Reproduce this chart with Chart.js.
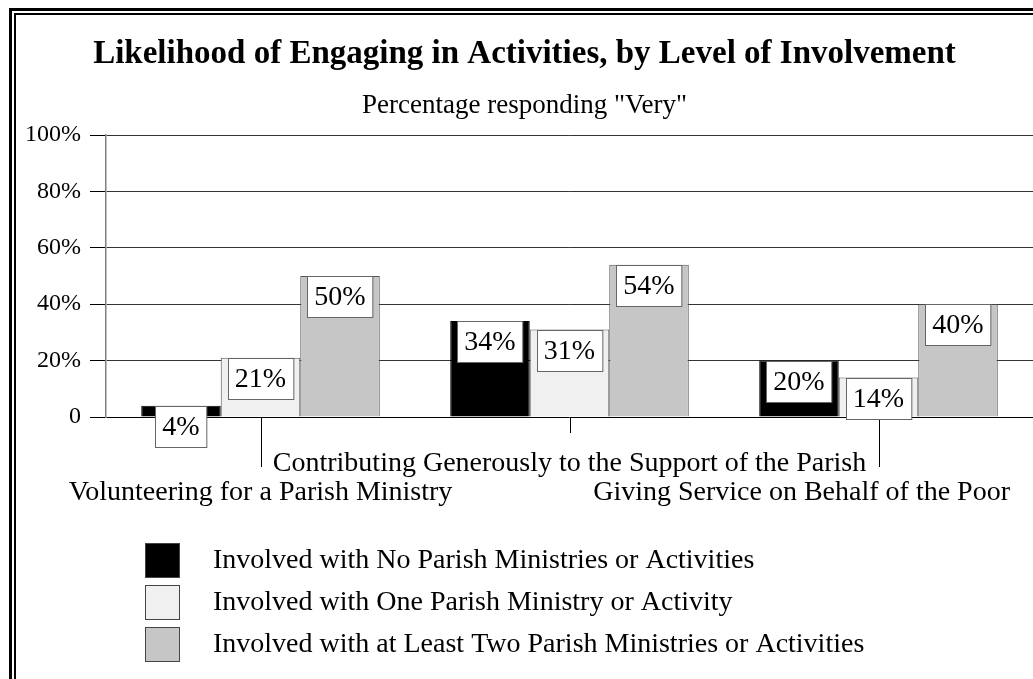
<!DOCTYPE html>
<html>
<head>
<meta charset="utf-8">
<script src="https://cdn.jsdelivr.net/npm/chart.js@4"></script>
<style>
  html, body { margin: 0; padding: 0; background: #fff; overflow: hidden; }
  #outer { position: absolute; left: 9px; top: 8px; right: 0; bottom: 0;
           border-top: 3px solid #000; border-left: 3px solid #000; }
  #inner { position: absolute; left: 2px; top: 2px; right: 0; bottom: 0;
           border-top: 2px solid #000; border-left: 2px solid #000; }
  #wrap { position: absolute; left: 0; top: 0; width: 1017px; height: 664px; }
</style>
</head>
<body>
<div id="outer"><div id="inner"><div id="wrap"><canvas id="chart"></canvas></div></div></div>
<script>
// Chart data
const categories = [
    "Volunteering for a Parish Ministry",
    "Contributing Generously to the Support of the Parish",
    "Giving Service on Behalf of the Poor"
];
const seriesNames = [
    "Involved with No Parish Ministries or Activities",
    "Involved with One Parish Ministry or Activity",
    "Involved with at Least Two Parish Ministries or Activities"
];
const noneValues = [4, 34, 20];
const oneValues = [21, 31, 14];
const twoValues = [50, 54, 40];
const yTicks = [0, 20, 40, 60, 80, 100];

const FONT = "'Liberation Serif', 'Times New Roman', serif";

// Draws value boxes, staggered category labels and the legend
const annotatePlugin = {
    id: 'annotate',
    beforeDatasetsDraw(chart) {
        const ctx = chart.ctx;
        const x = chart.scales.x;
        const bottom = chart.chartArea.bottom;
        ctx.save();
        ctx.strokeStyle = '#000';
        ctx.lineWidth = 1;
        categories.forEach(function(c, i) {
            const px = Math.round(x.getPixelForValue(i)) + 0.5;
            const len = (i % 2 === 1) ? 16 : 50;
            ctx.beginPath();
            ctx.moveTo(px, bottom);
            ctx.lineTo(px, bottom + len);
            ctx.stroke();
        });
        ctx.restore();
    },
    afterDatasetsDraw(chart) {
        const ctx = chart.ctx;
        ctx.save();
        ctx.font = '28px ' + FONT;
        ctx.textAlign = 'center';
        ctx.textBaseline = 'middle';
        chart.data.datasets.forEach(function(ds, d) {
            chart.getDatasetMeta(d).data.forEach(function(bar, i) {
                const txt = ds.data[i] + '%';
                const w = ctx.measureText(txt).width + 14;
                const h = 41;
                const left = Math.round(bar.x - w / 2) + 0.5;
                const top = Math.round(bar.y) + 0.5;
                ctx.fillStyle = '#fff';
                ctx.fillRect(left, top, w, h);
                ctx.strokeStyle = '#666';
                ctx.lineWidth = 1;
                ctx.strokeRect(left, top, w, h);
                ctx.fillStyle = '#000';
                ctx.fillText(txt, bar.x, top + h / 2 + 1);
            });
        });

        // category labels, alternating rows
        const x = chart.scales.x;
        const bottom = chart.chartArea.bottom;
        ctx.font = '28px ' + FONT;
        ctx.textBaseline = 'alphabetic';
        categories.forEach(function(c, i) {
            const px = x.getPixelForValue(i);
            const w = ctx.measureText(c).width;
            let cx = px;
            if (cx + w / 2 > chart.width - 23) cx = chart.width - 23 - w / 2;
            const y = (i % 2 === 1) ? bottom + 54 : bottom + 83;
            ctx.fillText(c, cx, y);
        });

        // legend
        ctx.textAlign = 'left';
        ctx.textBaseline = 'middle';
        chart.data.datasets.forEach(function(ds, d) {
            const top = bottom + 126 + d * 42;
            ctx.fillStyle = ds.backgroundColor;
            ctx.fillRect(129.5, top + 0.5, 34, 34);
            ctx.strokeStyle = '#444';
            ctx.lineWidth = 1;
            ctx.strokeRect(129.5, top + 0.5, 34, 34);
            ctx.fillStyle = '#000';
            ctx.fillText(ds.label, 197, top + 18);
        });
        ctx.restore();
    }
};

const ctx = document.getElementById('chart').getContext('2d');
new Chart(ctx, {
    type: 'bar',
    data: {
        labels: categories,
        datasets: [{
            label: seriesNames[0],
            data: noneValues,
            backgroundColor: '#000000',
            borderColor: '#000000',
            borderWidth: 1
        }, {
            label: seriesNames[1],
            data: oneValues,
            backgroundColor: '#f0f0f0',
            borderColor: '#555555',
            borderWidth: 1
        }, {
            label: seriesNames[2],
            data: twoValues,
            backgroundColor: '#c6c6c6',
            borderColor: '#555555',
            borderWidth: 1
        }]
    },
    options: {
        responsive: true,
        maintainAspectRatio: false,
        animation: false,
        datasets: {
            bar: { categoryPercentage: 0.772, barPercentage: 1.0 }
        },
        layout: { padding: { left: 0, right: 0, top: 0, bottom: 0 } },
        plugins: {
            legend: { display: false },
            tooltip: { enabled: false },
            title: {
                display: true,
                text: 'Likelihood of Engaging in Activities, by Level of Involvement',
                color: '#000',
                font: { family: FONT, size: 33, weight: 'bold' },
                padding: { top: 20, bottom: 6 }
            },
            subtitle: {
                display: true,
                text: 'Percentage responding "Very"',
                color: '#000',
                font: { family: FONT, size: 27 },
                padding: { top: 9, bottom: 13 }
            }
        },
        scales: {
            x: {
                grid: { display: false },
                border: { display: false },
                ticks: { display: false },
                afterFit: function(scale) { scale.height = 262; }
            },
            y: {
                min: 0,
                max: 100,
                afterBuildTicks: function(scale) {
                    scale.ticks = yTicks.map(function(v) { return { value: v }; });
                },
                ticks: {
                    color: '#000',
                    padding: 9,
                    font: { family: FONT, size: 24 },
                    callback: function(v) { return v === 0 ? '0' : v + '%'; }
                },
                grid: {
                    color: function(c) { return c.tick && c.tick.value === 0 ? '#000' : '#333'; },
                    tickLength: 16,
                    tickColor: '#000'
                },
                border: { color: '#808080', width: 1.5 },
                afterFit: function(scale) { scale.width = 90; }
            }
        }
    },
    plugins: [annotatePlugin]
});
</script>
</body>
</html>
